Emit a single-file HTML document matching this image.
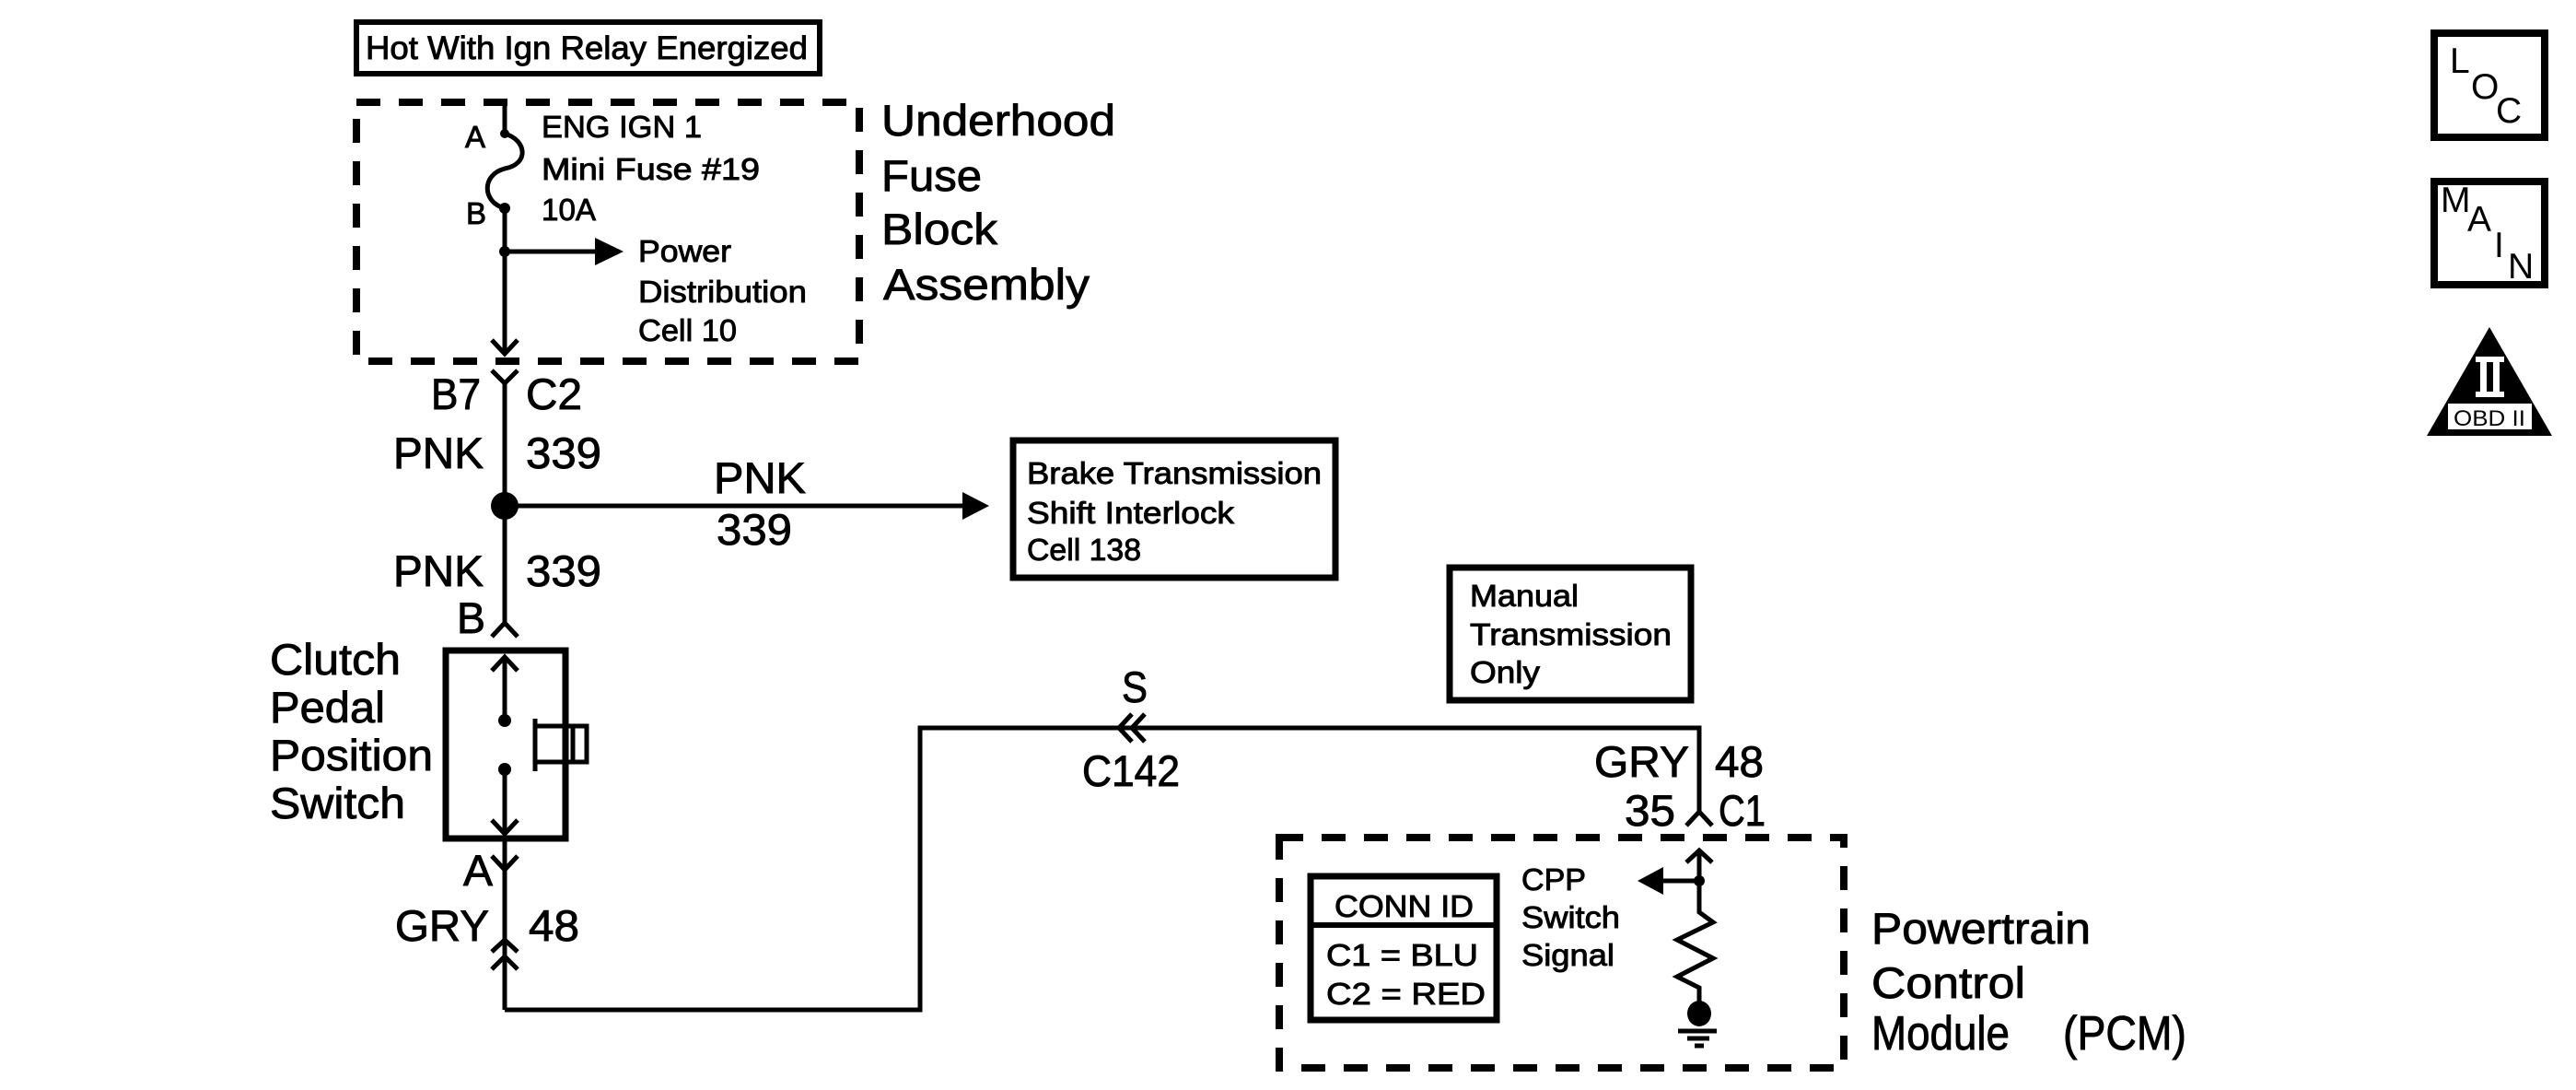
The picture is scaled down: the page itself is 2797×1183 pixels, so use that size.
<!DOCTYPE html>
<html><head><meta charset="utf-8"><style>html,body{margin:0;padding:0;background:#fff}svg{display:block}</style></head>
<body>
<svg width="2797" height="1183" viewBox="0 0 2797 1183" xmlns="http://www.w3.org/2000/svg" font-family="Liberation Sans, Arial, sans-serif" fill="#000">
<g fill="none" stroke="#000" stroke-width="5">
<rect x="387" y="24" width="503" height="56" stroke-width="6"/>
<rect x="387" y="111" width="546" height="281" stroke-width="8" stroke-dasharray="26,20"/>
<line x1="548" y1="111" x2="548" y2="145"/>
<path d="M548 145 C572 152 575 178 548 183 C522 190 524 220 548 226"/>
<line x1="548" y1="226" x2="548" y2="384"/>
<line x1="548" y1="273" x2="650" y2="273"/>
<polyline points="534,369 548,384 562,369"/>
<polyline points="534,402 548,416 562,402"/>
<line x1="548" y1="416" x2="548" y2="676"/>
<line x1="548" y1="549" x2="1048" y2="549"/>
<rect x="1100" y="478" width="350" height="149" stroke-width="7"/>
<polyline points="534,691 548,676 562,691"/>
<rect x="484" y="706" width="130" height="204" stroke-width="7"/>
<polyline points="534,728 548,713 562,728"/>
<line x1="548" y1="713" x2="548" y2="782"/>
<line x1="548" y1="835" x2="548" y2="905"/>
<polyline points="534,890 548,905 562,890"/>
<line x1="581" y1="780" x2="581" y2="837"/>
<polyline points="581,788 637,788 637,827 581,827"/>
<line x1="622" y1="788" x2="622" y2="827"/>
<line x1="548" y1="910" x2="548" y2="1096"/>
<polyline points="534,929 548,944 562,929"/>
<polyline points="534,1033 548,1020 562,1033"/>
<polyline points="534,1052 548,1038 562,1052"/>
<polyline points="548,1096 999,1096 999,790 1845,790 1845,881"/>
<polyline points="1229,775 1215,790 1229,805"/>
<polyline points="1243,775 1229,790 1243,805"/>
<polyline points="1831,896 1845,881 1859,896"/>
<rect x="1574" y="616" width="262" height="144" stroke-width="7"/>
<rect x="1389" y="909" width="613" height="250" stroke-width="8" stroke-dasharray="26,20"/>
<polyline points="1831,936 1845,923 1859,936"/>
<line x1="1845" y1="923" x2="1845" y2="983"/>
<line x1="1845" y1="956" x2="1800" y2="956"/>
<polyline points="1845,983 1845,990 1860,1001 1821,1020 1860,1040 1821,1060 1845,1072 1845,1100"/>
<line x1="1822" y1="1119" x2="1864" y2="1119"/>
<line x1="1832" y1="1127" x2="1856" y2="1127"/>
<line x1="1840" y1="1135" x2="1850" y2="1135"/>
<rect x="1423" y="951" width="202" height="156" stroke-width="7"/>
<line x1="1423" y1="1004" x2="1625" y2="1004" stroke-width="6"/>
<rect x="2643" y="36" width="120" height="113" stroke-width="8"/>
<rect x="2643" y="197" width="120" height="112" stroke-width="8"/>
</g>
<circle cx="548" cy="145" r="5"/>
<circle cx="548" cy="226" r="6"/>
<circle cx="548" cy="273" r="6"/>
<polygon points="646,258 677,273 646,288"/>
<ellipse cx="548" cy="549" rx="15" ry="15"/>
<polygon points="1045,534 1074,549 1045,564"/>
<circle cx="548" cy="782" r="7"/>
<circle cx="548" cy="835" r="7"/>
<circle cx="1845" cy="956" r="6"/>
<polygon points="1806,941 1778,956 1806,971"/>
<ellipse cx="1845" cy="1100" rx="13" ry="14"/>
<polygon points="2703,355 2771,473 2635,473"/>
<g fill="#fff">
<rect x="2688" y="387" width="31" height="6"/>
<rect x="2693" y="393" width="7" height="32"/>
<rect x="2707" y="393" width="7" height="32"/>
<rect x="2688" y="425" width="31" height="6"/>
<rect x="2658" y="438" width="91" height="28"/>
</g>
<text x="2703" y="462" font-size="24" text-anchor="middle" textLength="78" lengthAdjust="spacingAndGlyphs">OBD II</text>
<g font-size="39">
<text x="2660" y="79">L</text><text x="2683" y="107">O</text><text x="2710" y="133">C</text>
<text x="2650" y="230">M</text><text x="2679" y="251">A</text><text x="2708" y="279">I</text><text x="2723" y="302">N</text>
</g>
<g stroke="#000" stroke-width="0.9">
<text x="397" y="64" font-size="35" textLength="480" lengthAdjust="spacingAndGlyphs">Hot With Ign Relay Energized</text>
<g font-size="33">
<text x="505" y="160">A</text>
<text x="506" y="243">B</text>
<text x="588" y="149" textLength="174" lengthAdjust="spacingAndGlyphs">ENG IGN 1</text>
<text x="588" y="195" textLength="237" lengthAdjust="spacingAndGlyphs">Mini Fuse  #19</text>
<text x="588" y="239" textLength="59" lengthAdjust="spacingAndGlyphs">10A</text>
<text x="693" y="284" textLength="101" lengthAdjust="spacingAndGlyphs">Power</text>
<text x="693" y="328" textLength="183" lengthAdjust="spacingAndGlyphs">Distribution</text>
<text x="693" y="370" textLength="107" lengthAdjust="spacingAndGlyphs">Cell 10</text>
</g>
<g font-size="47">
<text x="957" y="147" textLength="254" lengthAdjust="spacingAndGlyphs">Underhood</text>
<text x="957" y="207" textLength="109" lengthAdjust="spacingAndGlyphs">Fuse</text>
<text x="957" y="265" textLength="126" lengthAdjust="spacingAndGlyphs">Block</text>
<text x="959" y="325" textLength="224" lengthAdjust="spacingAndGlyphs">Assembly</text>
<text x="468" y="444" textLength="54" lengthAdjust="spacingAndGlyphs">B7</text>
<text x="571" y="444" textLength="61" lengthAdjust="spacingAndGlyphs">C2</text>
<text x="427" y="508" textLength="98" lengthAdjust="spacingAndGlyphs">PNK</text>
<text x="571" y="508" textLength="82" lengthAdjust="spacingAndGlyphs">339</text>
<text x="775" y="535" textLength="100" lengthAdjust="spacingAndGlyphs">PNK</text>
<text x="778" y="591" textLength="82" lengthAdjust="spacingAndGlyphs">339</text>
<text x="427" y="636" textLength="98" lengthAdjust="spacingAndGlyphs">PNK</text>
<text x="571" y="636" textLength="82" lengthAdjust="spacingAndGlyphs">339</text>
<text x="496" y="687" textLength="31" lengthAdjust="spacingAndGlyphs">B</text>
<text x="293" y="732" textLength="142" lengthAdjust="spacingAndGlyphs">Clutch</text>
<text x="293" y="784" textLength="125" lengthAdjust="spacingAndGlyphs">Pedal</text>
<text x="293" y="836" textLength="177" lengthAdjust="spacingAndGlyphs">Position</text>
<text x="293" y="888" textLength="147" lengthAdjust="spacingAndGlyphs">Switch</text>
<text x="503" y="961" textLength="32" lengthAdjust="spacingAndGlyphs">A</text>
<text x="429" y="1021" textLength="102" lengthAdjust="spacingAndGlyphs">GRY</text>
<text x="574" y="1021" textLength="55" lengthAdjust="spacingAndGlyphs">48</text>
<text x="1218" y="762" textLength="28" lengthAdjust="spacingAndGlyphs">S</text>
<text x="1175" y="853" textLength="106" lengthAdjust="spacingAndGlyphs">C142</text>
<text x="1731" y="843" textLength="103" lengthAdjust="spacingAndGlyphs">GRY</text>
<text x="1862" y="843" textLength="53" lengthAdjust="spacingAndGlyphs">48</text>
<text x="1764" y="896" textLength="55" lengthAdjust="spacingAndGlyphs">35</text>
<text x="1866" y="896" textLength="51" lengthAdjust="spacingAndGlyphs">C1</text>
<text x="2032" y="1024" textLength="238" lengthAdjust="spacingAndGlyphs">Powertrain</text>
<text x="2032" y="1083" textLength="167" lengthAdjust="spacingAndGlyphs">Control</text>
<text x="2032" y="1139" font-size="52" textLength="150" lengthAdjust="spacingAndGlyphs">Module</text>
<text x="2240" y="1139" font-size="52" textLength="134" lengthAdjust="spacingAndGlyphs">(PCM)</text>
</g>
<g font-size="33">
<text x="1115" y="525" textLength="320" lengthAdjust="spacingAndGlyphs">Brake Transmission</text>
<text x="1115" y="568" textLength="225" lengthAdjust="spacingAndGlyphs">Shift Interlock</text>
<text x="1115" y="608" textLength="124" lengthAdjust="spacingAndGlyphs">Cell 138</text>
<text x="1596" y="658" textLength="118" lengthAdjust="spacingAndGlyphs">Manual</text>
<text x="1596" y="700" textLength="219" lengthAdjust="spacingAndGlyphs">Transmission</text>
<text x="1596" y="741" textLength="76" lengthAdjust="spacingAndGlyphs">Only</text>
<text x="1652" y="966" textLength="70" lengthAdjust="spacingAndGlyphs">CPP</text>
<text x="1652" y="1007" textLength="107" lengthAdjust="spacingAndGlyphs">Switch</text>
<text x="1652" y="1048" textLength="101" lengthAdjust="spacingAndGlyphs">Signal</text>
<text x="1449" y="995" textLength="151" lengthAdjust="spacingAndGlyphs">CONN ID</text>
<text x="1440" y="1048" textLength="165" lengthAdjust="spacingAndGlyphs">C1  =  BLU</text>
<text x="1440" y="1090" textLength="173" lengthAdjust="spacingAndGlyphs">C2  =  RED</text>
</g>
</g>
</svg>
</body></html>
